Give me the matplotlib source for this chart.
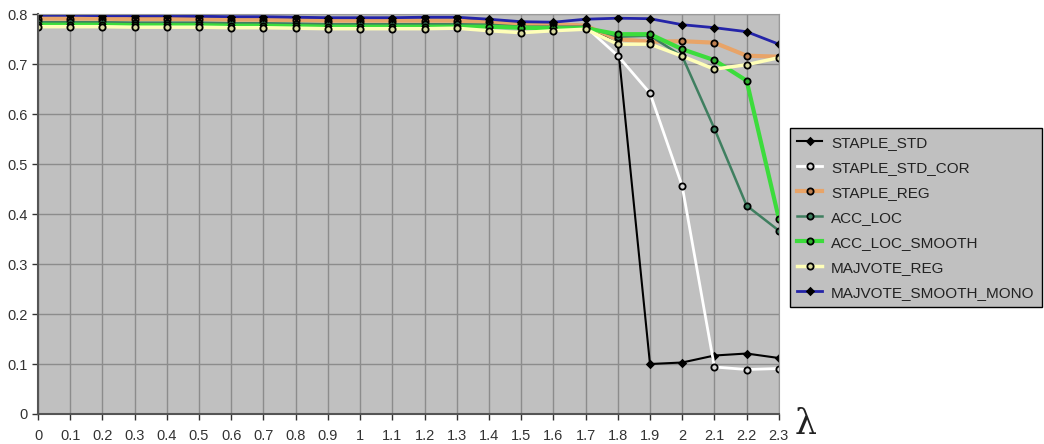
import numpy as np
import matplotlib.pyplot as plt

plt.rcParams["font.family"] = ["Liberation Sans", "DejaVu Sans"]

# lambda values and curves
lambdas = [round(0.1 * i, 1) for i in range(24)]
tick_labels = ["0", "0.1", "0.2", "0.3", "0.4", "0.5", "0.6", "0.7", "0.8", "0.9", "1",
               "1.1", "1.2", "1.3", "1.4", "1.5", "1.6", "1.7", "1.8", "1.9", "2",
               "2.1", "2.2", "2.3"]

staple_std = [0.793, 0.793, 0.793, 0.792, 0.792, 0.792, 0.791, 0.791, 0.790, 0.789, 0.789, 0.789,
              0.789, 0.789, 0.786, 0.782, 0.780, 0.778, 0.740, 0.100, 0.103, 0.117, 0.121, 0.112]
staple_std_cor = [0.790, 0.790, 0.790, 0.789, 0.789, 0.789, 0.788, 0.788, 0.787, 0.786, 0.786, 0.786,
                  0.786, 0.786, 0.783, 0.779, 0.777, 0.775, 0.717, 0.642, 0.456, 0.094, 0.089, 0.091]
staple_reg = [0.791, 0.791, 0.791, 0.790, 0.790, 0.790, 0.789, 0.789, 0.788, 0.787, 0.787, 0.787,
              0.787, 0.787, 0.784, 0.780, 0.780, 0.777, 0.750, 0.745, 0.746, 0.743, 0.717, 0.715]
acc_loc = [0.784, 0.784, 0.784, 0.783, 0.783, 0.783, 0.782, 0.782, 0.781, 0.780, 0.780, 0.780,
           0.780, 0.780, 0.779, 0.775, 0.775, 0.775, 0.755, 0.757, 0.716, 0.571, 0.417, 0.367]
acc_loc_smooth = [0.779, 0.779, 0.779, 0.778, 0.778, 0.778, 0.777, 0.777, 0.776, 0.775, 0.775, 0.775,
                  0.775, 0.775, 0.775, 0.773, 0.772, 0.772, 0.760, 0.760, 0.730, 0.708, 0.667, 0.391]
majvote_reg = [0.775, 0.775, 0.775, 0.774, 0.774, 0.774, 0.773, 0.773, 0.772, 0.771, 0.771, 0.771,
               0.771, 0.772, 0.767, 0.763, 0.767, 0.770, 0.740, 0.740, 0.716, 0.690, 0.699, 0.713]
majvote_smooth_mono = [0.798, 0.798, 0.797, 0.797, 0.797, 0.796, 0.795, 0.795, 0.794, 0.793, 0.793, 0.793,
                       0.794, 0.794, 0.790, 0.785, 0.784, 0.790, 0.792, 0.791, 0.779, 0.773, 0.765, 0.740]

series = [
    ("STAPLE_STD", staple_std, "#000000", 1.5, "D", "#000000"),
    ("STAPLE_STD_COR", staple_std_cor, "#FFFFFF", 2.0, "o", "#D8D8D8"),
    ("STAPLE_REG", staple_reg, "#E8A468", 3.0, "o", "#C08050"),
    ("ACC_LOC", acc_loc, "#3F7F60", 1.8, "o", "#3F7F60"),
    ("ACC_LOC_SMOOTH", acc_loc_smooth, "#3CDC3C", 3.0, "o", "#30B030"),
    ("MAJVOTE_REG", majvote_reg, "#FFFFB8", 2.5, "o", "#D8D8A0"),
    ("MAJVOTE_SMOOTH_MONO", majvote_smooth_mono, "#2424A8", 2.0, "D", "#000000"),
]

fig = plt.figure(figsize=(10.44, 4.44), dpi=100)
ax = fig.add_axes([0.0364, 0.0676, 0.7096, 0.9004])
ax.set_facecolor("#C0C0C0")

for label, values, color, lw, marker, mface in series:
    ax.plot(lambdas, values, color=color, linewidth=lw, marker=marker,
            markersize=3.5 if marker == "D" else 4.5, markerfacecolor=mface,
            markeredgecolor="black", markeredgewidth=1.3, label=label)

ax.set_xlim(0, 2.3)
ax.set_ylim(0, 0.8)
ax.set_xticks(lambdas)
ax.set_xticklabels(tick_labels)
ax.set_yticks(np.arange(0, 0.81, 0.1))
ax.set_yticklabels(["0", "0.1", "0.2", "0.3", "0.4", "0.5", "0.6", "0.7", "0.8"])
ax.tick_params(axis="both", labelsize=10.5, colors="#333333", length=4, width=1)
ax.tick_params(axis="x", pad=7)
ax.grid(True, color="#8C8C8C", linewidth=1)
ax.set_axisbelow(True)
for side in ["top", "right"]:
    ax.spines[side].set_color("#9A9A9A")
for side in ["left", "bottom"]:
    ax.spines[side].set_color("#555555")
    ax.spines[side].set_linewidth(1.5)

leg = ax.legend(loc="upper left", bbox_to_anchor=(1.0148, 0.715), borderaxespad=0,
                fontsize=11, frameon=True, fancybox=False, handlelength=1.6,
                labelspacing=0.72, borderpad=0.5, handletextpad=0.6)
leg.get_frame().set_facecolor("#C0C0C0")
leg.get_frame().set_edgecolor("black")
leg.get_frame().set_alpha(1)
for text in leg.get_texts():
    text.set_color("#222222")

fig.text(0.761, 0.022, "λ", fontsize=25, family="DejaVu Serif", color="#222222",
         va="baseline")

fig.savefig("out.png", dpi=100)
